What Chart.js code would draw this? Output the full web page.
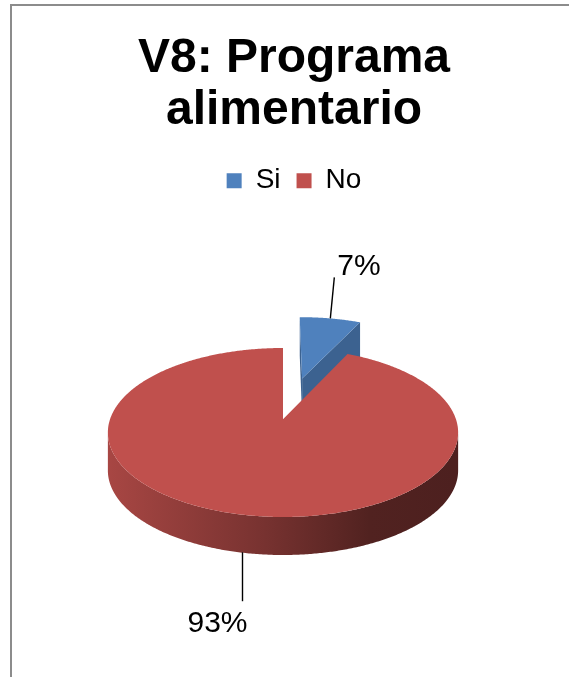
<!DOCTYPE html>
<html>
<head>
<meta charset="utf-8">
<script src="https://cdn.jsdelivr.net/npm/chart.js@4/dist/chart.umd.min.js"></script>
<style>
  html, body { margin: 0; padding: 0; background: #fff; overflow: hidden; }
  canvas { display: block; }
</style>
</head>
<body>
<canvas id="chart" width="569" height="677"></canvas>
<script>
// Respuestas a la variable V8 (porcentaje de encuestados)
const categories = ['Si', 'No'];
const percentages = [7, 93];
const sliceColors = ['#4F81BD', '#C0504D'];
const titleLines = ['V8: Programa', 'alimentario'];

const FONT = "'Liberation Sans', Arial, Helvetica, sans-serif";

function shade(hex, k) {
  const n = parseInt(hex.slice(1), 16);
  const r = Math.round(((n >> 16) & 255) * k);
  const g = Math.round(((n >> 8) & 255) * k);
  const b = Math.round((n & 255) * k);
  return `rgb(${r},${g},${b})`;
}

// Grey frame of the chart area (left and top edges)
const frame = {
  id: 'frame',
  beforeDraw(chart) {
    const { ctx, width, height } = chart;
    ctx.save();
    ctx.fillStyle = '#ffffff';
    ctx.fillRect(0, 0, width, height);
    ctx.fillStyle = '#8c8c8c';
    ctx.fillRect(10, 4, 2, height - 4);
    ctx.fillRect(10, 4, width - 10, 2);
    ctx.restore();
  }
};

// Draws the pie's arcs as a tilted 3D disc, with leader-line percentage labels
const pie3d = {
  id: 'pie3d',
  beforeDatasetsDraw(chart, args, opts) {
    const meta = chart.getDatasetMeta(0);
    const ds = chart.data.datasets[0];
    const arcs = meta.data;
    if (!arcs.length) return false;
    const ctx = chart.ctx;
    const cx = arcs[0].x + opts.shiftX;
    const cy = arcs[0].y;
    const R = arcs[0].outerRadius;
    const { tilt, depth, perspective } = opts;
    // X: right, Z: away from the viewer, h: downward drop of the wall
    const P = (X, Z, h) => {
      const f = 1 / (1 + perspective * Z);
      return [cx + X * f, cy - Z * tilt * f + h];
    };
    const total = ds.data.reduce((a, b) => a + b, 0);

    const slices = arcs.map((arc, i) => {
      const a0 = arc.startAngle + Math.PI / 2;
      const a1 = arc.endAngle + Math.PI / 2;
      const mid = (a0 + a1) / 2;
      const e = arc.options.offset || 0;
      return { i, a0, a1, mid, X0: e * Math.sin(mid), Z0: e * Math.cos(mid),
               color: ds.backgroundColor[i], value: ds.data[i] };
    });
    const rim = (s, th, h) => P(s.X0 + R * Math.sin(th), s.Z0 + R * Math.cos(th), h);

    const order = slices.slice().sort((a, b) =>
      (b.Z0 + R * Math.cos(b.mid)) - (a.Z0 + R * Math.cos(a.mid)));

    ctx.save();
    order.forEach(s => {
      const n = Math.max(12, Math.ceil((s.a1 - s.a0) / (Math.PI / 360)));
      const ths = [];
      for (let j = 0; j <= n; j++) ths.push(s.a0 + (s.a1 - s.a0) * j / n);

      // outer wall, only the parts facing the viewer
      const grad = ctx.createLinearGradient(cx - R, 0, cx + R, 0);
      opts.sideStops.forEach(([p, k]) => grad.addColorStop(p, shade(s.color, k)));
      let run = [];
      const flush = () => {
        if (run.length > 1) {
          ctx.beginPath();
          run.forEach((th, j) => {
            const p = rim(s, th, 0);
            if (j) ctx.lineTo(p[0], p[1]); else ctx.moveTo(p[0], p[1]);
          });
          for (let j = run.length - 1; j >= 0; j--) {
            const p = rim(s, run[j], depth);
            ctx.lineTo(p[0], p[1]);
          }
          ctx.closePath();
          ctx.fillStyle = grad;
          ctx.fill();
        }
        run = [];
      };
      for (let j = 0; j < n; j++) {
        const pa = rim(s, ths[j], 0), pb = rim(s, ths[j + 1], 0);
        if (pb[0] < pa[0]) {
          if (!run.length) run.push(ths[j]);
          run.push(ths[j + 1]);
        } else {
          flush();
        }
      }
      flush();

      // radial cut faces
      const face = (th, sign) => {
        const q = [P(s.X0, s.Z0, 0), rim(s, th, 0), rim(s, th, depth), P(s.X0, s.Z0, depth)];
        let area = 0;
        for (let j = 0; j < 4; j++) {
          const [x1, y1] = q[j], [x2, y2] = q[(j + 1) % 4];
          area += x1 * y2 - x2 * y1;
        }
        if (area * sign > 1) {
          ctx.beginPath();
          q.forEach((p, j) => j ? ctx.lineTo(p[0], p[1]) : ctx.moveTo(p[0], p[1]));
          ctx.closePath();
          ctx.fillStyle = shade(s.color, opts.faceShade);
          ctx.fill();
        }
      };
      face(s.a0, -1);
      face(s.a1, 1);

      // top surface
      ctx.beginPath();
      const c = P(s.X0, s.Z0, 0);
      ctx.moveTo(c[0], c[1]);
      ths.forEach(th => { const p = rim(s, th, 0); ctx.lineTo(p[0], p[1]); });
      ctx.closePath();
      ctx.fillStyle = s.color;
      ctx.fill();
    });

    // percentage labels with leader lines
    ctx.font = `${opts.labelSize}px ${FONT}`;
    ctx.fillStyle = '#000';
    ctx.strokeStyle = '#000';
    ctx.lineWidth = 1.4;
    slices.forEach(s => {
      const front = Math.cos(s.mid) < 0;
      const L = front ? opts.below : opts.above;
      const a = rim(s, s.mid, front ? depth : 0);
      const start = [a[0] + L.dx0, a[1]];
      const end = [a[0] + L.dx, a[1] + L.dy];
      ctx.beginPath();
      ctx.moveTo(start[0], start[1]);
      ctx.lineTo(end[0], end[1]);
      ctx.stroke();
      ctx.textAlign = front ? 'right' : 'left';
      ctx.textBaseline = 'alphabetic';
      ctx.fillText(Math.round(s.value / total * 100) + '%', end[0] + L.tx, end[1] + L.ty);
    });
    ctx.restore();
    return false;
  }
};

new Chart(document.getElementById('chart'), {
  type: 'pie',
  data: {
    labels: categories,
    datasets: [{
      data: percentages,
      backgroundColor: sliceColors,
      borderWidth: 0,
      offset: [95, 0],
      hoverOffset: 0
    }]
  },
  options: {
    responsive: false,
    animation: false,
    events: [],
    radius: 173,
    layout: { padding: { left: 19, right: 0, top: 0, bottom: 43 } },
    plugins: {
      title: {
        display: true,
        text: titleLines,
        color: '#000',
        font: { family: FONT, size: 48, weight: 'bold', lineHeight: 1.08 },
        padding: { top: 33, bottom: 14 }
      },
      legend: {
        display: true,
        position: 'top',
        labels: {
          boxWidth: 15,
          boxHeight: 15,
          padding: 16,
          color: '#000',
          font: { family: FONT, size: 28 }
        }
      },
      tooltip: { enabled: false },
      pie3d: {
        shiftX: -11,
        tilt: 0.4766,
        depth: 38,
        perspective: 0.0009,
        faceShade: 0.76,
        sideStops: [[0, 0.87], [0.45, 0.62], [0.75, 0.42], [1, 0.40]],
        labelSize: 30,
        above: { dx0: 0, dx: 4, dy: -41, tx: 3, ty: -2 },
        below: { dx0: 4, dx: 4, dy: 49, tx: 5, ty: 31 }
      }
    }
  },
  plugins: [frame, pie3d]
});
</script>
</body>
</html>
